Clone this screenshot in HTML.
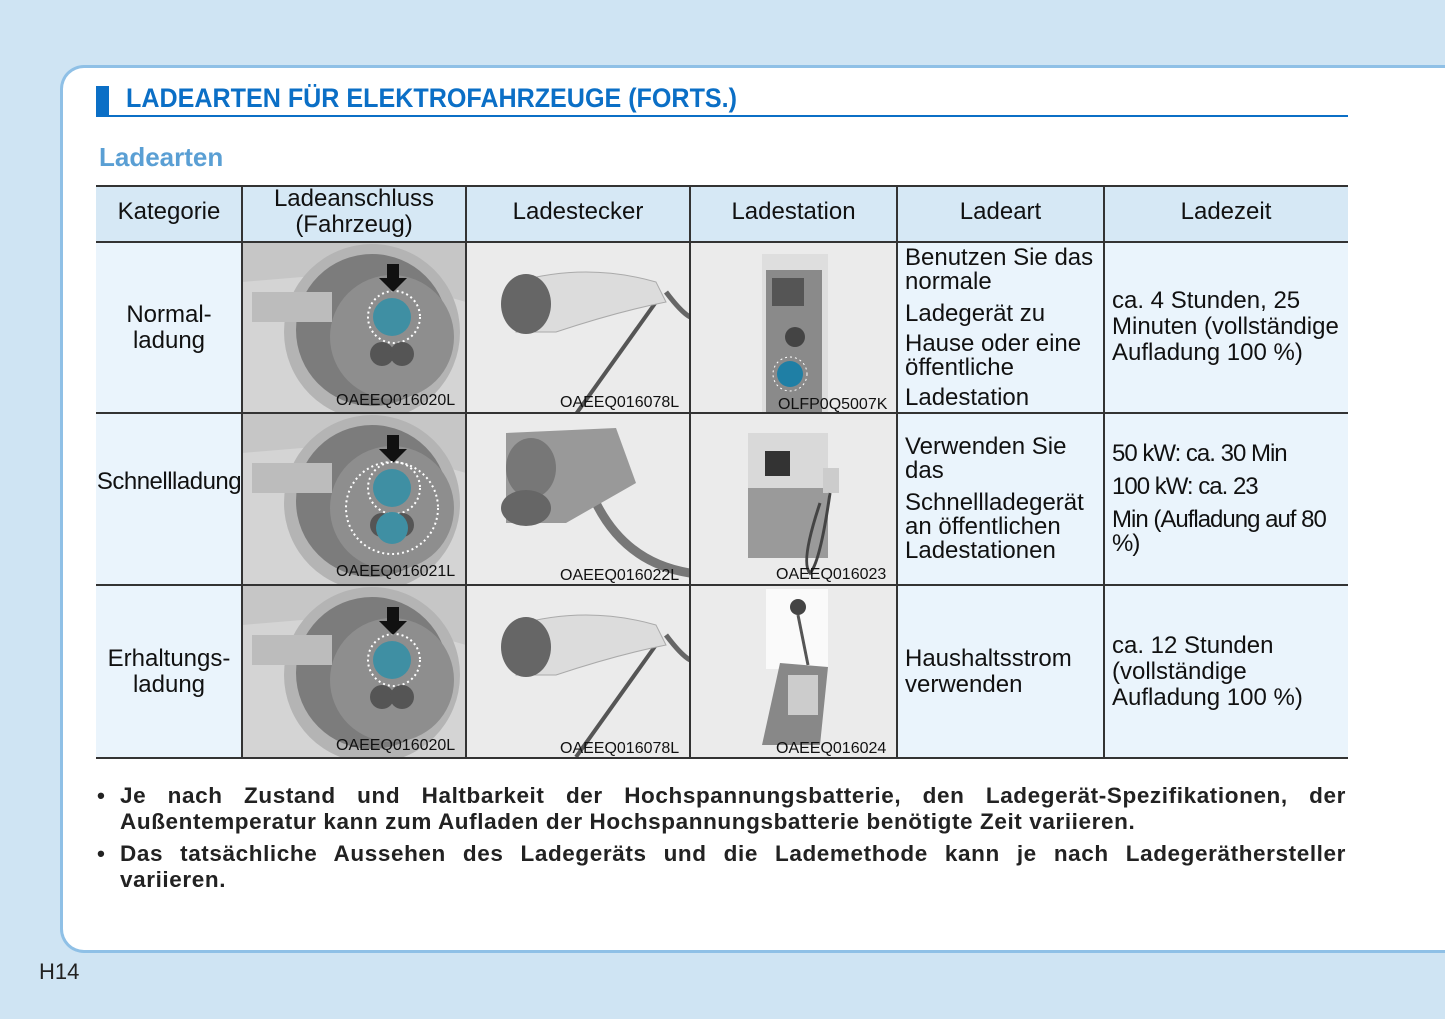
<!DOCTYPE html>
<html><head><meta charset="utf-8"><style>
*{margin:0;padding:0;box-sizing:border-box}
body{width:1445px;height:1019px;background:#cfe4f3;position:relative;overflow:hidden;font-family:"Liberation Sans",sans-serif;color:#111}
.panel{position:absolute;left:60px;top:65px;width:1400px;height:888px;background:#fff;border:3px solid #8fc0e6;border-right:none;border-radius:24px 0 0 24px}
.abs{position:absolute}
.c{position:absolute;font-size:24px;line-height:26px;display:flex;flex-direction:column;justify-content:center}
.ctr{text-align:center;align-items:center}
.hd{background:#d6e8f5}
.tx{background:#eaf4fc}
.cap{position:absolute;font-size:16px;color:#111;bottom:1px;right:2px}
.hl{position:absolute;left:96px;width:1252px;height:2px;background:#333}
.vl{position:absolute;top:186px;height:572px;width:2px;background:#333}
.note{position:absolute;left:120px;width:1226px;font-size:22.5px;font-weight:bold;line-height:26px;color:#222;text-align:justify;letter-spacing:0.6px}
.b{position:absolute;left:97px;font-size:22.5px;font-weight:bold;color:#222}
</style></head><body>
<div class="panel"></div>
<div class="abs" style="left:96px;top:86px;width:13px;height:30px;background:#0b6fc6"></div>
<div class="abs" style="left:126px;top:83px;font-size:27px;font-weight:bold;color:#0b6fc6;transform:scaleX(0.93);transform-origin:left">LADEARTEN FÜR ELEKTROFAHRZEUGE (FORTS.)</div>
<div class="abs" style="left:96px;top:115px;width:1252px;height:2px;background:#0b6fc6"></div>
<div class="abs" style="left:99px;top:142px;font-size:26px;font-weight:bold;color:#5a9fd4">Ladearten</div>

<div class="c ctr hd" style="left:96px;top:186px;width:146px;height:56px;padding-bottom:4px">Kategorie</div>
<div class="c ctr hd" style="left:242px;top:186px;width:224px;height:56px;padding-bottom:4px">Ladeanschluss<br>(Fahrzeug)</div>
<div class="c ctr hd" style="left:466px;top:186px;width:224px;height:56px;padding-bottom:4px">Ladestecker</div>
<div class="c ctr hd" style="left:690px;top:186px;width:207px;height:56px;padding-bottom:4px">Ladestation</div>
<div class="c ctr hd" style="left:897px;top:186px;width:207px;height:56px;padding-bottom:4px">Ladeart</div>
<div class="c ctr hd" style="left:1104px;top:186px;width:244px;height:56px;padding-bottom:4px">Ladezeit</div>

<div class="c ctr tx" style="left:96px;top:242px;width:146px;height:171px">Normal-<br>ladung</div>
<div class="c tx" style="left:897px;top:242px;width:207px;height:171px;padding-left:8px;line-height:24px">Benutzen Sie das<br>normale<div style="height:8px"></div>Ladegerät zu<div style="height:6px"></div>Hause oder eine<br>öffentliche<div style="height:6px"></div>Ladestation</div>
<div class="c tx" style="left:1104px;top:242px;width:244px;height:171px;padding-left:8px;padding-bottom:2px">ca. 4 Stunden, 25<br>Minuten (vollständige<br>Aufladung 100 %)</div>
<div class="c ctr tx" style="left:96px;top:413px;width:146px;height:172px;padding-bottom:35px;letter-spacing:-0.5px">Schnellladung</div>
<div class="c tx" style="left:897px;top:413px;width:207px;height:172px;padding-left:8px;line-height:24px">Verwenden Sie<br>das<div style="height:8px"></div>Schnellladegerät<br>an öffentlichen<br>Ladestationen</div>
<div class="c tx" style="left:1104px;top:413px;width:244px;height:172px;padding-left:8px;letter-spacing:-1px;line-height:24px">50 kW: ca. 30 Min<div style="height:9px"></div>100 kW: ca. 23<div style="height:9px"></div>Min (Aufladung auf 80<br>%)</div>
<div class="c ctr tx" style="left:96px;top:585px;width:146px;height:173px">Erhaltungs-<br>ladung</div>
<div class="c tx" style="left:897px;top:585px;width:207px;height:173px;padding-left:8px">Haushaltsstrom<br>verwenden</div>
<div class="c tx" style="left:1104px;top:585px;width:244px;height:173px;padding-left:8px">ca. 12 Stunden<br>(vollständige<br>Aufladung 100 %)</div>

<svg class="abs" style="left:242px;top:242px" width="224" height="516">
 <defs><g id="port">
  <rect width="224" height="172" fill="#c6c6c6"/>
  <path d="M0 40 L120 30 L224 60 L224 172 L0 172Z" fill="#d4d4d4"/>
  <circle cx="130" cy="90" r="88" fill="#b4b4b4"/>
  <circle cx="130" cy="88" r="76" fill="#7c7c7c"/>
  <circle cx="150" cy="95" r="62" fill="#8e8e8e"/>
  <rect x="10" y="50" width="80" height="30" fill="#bcbcbc"/>
  <circle cx="152" cy="75" r="26" fill="none" stroke="#fff" stroke-width="2" stroke-dasharray="2 3"/>
  <circle cx="150" cy="75" r="19" fill="#3f8fa3"/>
  <circle cx="140" cy="112" r="12" fill="#555"/><circle cx="160" cy="112" r="12" fill="#555"/>
  <path d="M145 22 h12 v14 h8 l-14 14 l-14 -14 h8z" fill="#111"/>
 </g></defs>
 <use href="#port"/>
 <g transform="translate(0,171)"><use href="#port"/><circle cx="150" cy="115" r="16" fill="#3f8fa3"/><circle cx="150" cy="95" r="46" fill="none" stroke="#fff" stroke-width="2" stroke-dasharray="2 3"/></g>
 <g transform="translate(0,343)"><use href="#port"/></g>
</svg>
<div class="cap" style="left:336px;top:392px">OAEEQ016020L</div>
<div class="cap" style="left:336px;top:563px">OAEEQ016021L</div>
<div class="cap" style="left:336px;top:737px">OAEEQ016020L</div>

<svg class="abs" style="left:466px;top:242px" width="224" height="516">
 <defs><g id="plug">
  <rect width="224" height="172" fill="#ebebeb"/>
  <path d="M200 50 Q215 70 224 75" stroke="#666" stroke-width="5" fill="none"/>
  <line x1="190" y1="60" x2="110" y2="172" stroke="#555" stroke-width="4"/>
  <path d="M50 40 Q120 20 190 40 L200 60 Q150 70 90 90 L50 90Z" fill="#dcdcdc" stroke="#aaa"/>
  <ellipse cx="60" cy="62" rx="25" ry="30" fill="#666"/>
 </g></defs>
 <use href="#plug"/>
 <g transform="translate(0,171)"><rect width="224" height="172" fill="#ebebeb"/>
  <path d="M130 90 Q160 150 224 160" stroke="#777" stroke-width="9" fill="none"/>
  <path d="M40 20 L150 15 L170 70 L100 110 L40 110Z" fill="#999"/>
  <ellipse cx="65" cy="55" rx="25" ry="30" fill="#777"/><ellipse cx="60" cy="95" rx="25" ry="18" fill="#666"/></g>
 <g transform="translate(0,343)"><use href="#plug"/></g>
</svg>
<div class="cap" style="left:560px;top:394px">OAEEQ016078L</div>
<div class="cap" style="left:560px;top:567px">OAEEQ016022L</div>
<div class="cap" style="left:560px;top:740px">OAEEQ016078L</div>

<svg class="abs" style="left:690px;top:242px" width="207" height="516">
 <rect width="207" height="516" fill="#ebebeb"/>
 <rect x="72" y="12" width="66" height="160" fill="#dedede"/>
 <rect x="76" y="28" width="56" height="144" fill="#8a8a8a"/>
 <rect x="82" y="36" width="32" height="28" fill="#555"/>
 <circle cx="105" cy="95" r="10" fill="#444"/>
 <circle cx="100" cy="132" r="13" fill="#1f7fa5"/>
 <circle cx="100" cy="132" r="17" fill="none" stroke="#fff" stroke-dasharray="2 3"/>
 <g transform="translate(0,171)">
  <rect x="58" y="20" width="80" height="125" fill="#9a9a9a"/>
  <rect x="58" y="20" width="80" height="55" fill="#d9d9d9"/>
  <rect x="75" y="38" width="25" height="25" fill="#333"/>
  <rect x="133" y="55" width="16" height="25" fill="#ccc"/>
  <path d="M140 80 Q130 150 120 160 Q110 150 130 90" stroke="#444" stroke-width="3" fill="none"/>
 </g>
 <g transform="translate(0,343)">
  <rect x="76" y="4" width="62" height="80" fill="#fafafa"/>
  <circle cx="108" cy="22" r="8" fill="#444"/>
  <path d="M108 30 L118 80" stroke="#555" stroke-width="3"/>
  <path d="M90 78 L138 82 L130 160 L72 160Z" fill="#888"/>
  <rect x="98" y="90" width="30" height="40" fill="#ccc"/>
 </g>
</svg>
<div class="cap" style="left:778px;top:396px">OLFP0Q5007K</div>
<div class="cap" style="left:776px;top:566px">OAEEQ016023</div>
<div class="cap" style="left:776px;top:740px">OAEEQ016024</div>

<div class="hl" style="top:185px"></div>
<div class="hl" style="top:241px"></div>
<div class="hl" style="top:412px"></div>
<div class="hl" style="top:584px"></div>
<div class="hl" style="top:757px"></div>
<div class="vl" style="left:241px"></div>
<div class="vl" style="left:465px"></div>
<div class="vl" style="left:689px"></div>
<div class="vl" style="left:896px"></div>
<div class="vl" style="left:1103px"></div>

<div class="b" style="top:783px">•</div>
<div class="note" style="top:783px">Je nach Zustand und Haltbarkeit der Hochspannungsbatterie, den Ladegerät-Spezifikationen, der Außentemperatur kann zum Aufladen der Hochspannungsbatterie benötigte Zeit variieren.</div>
<div class="b" style="top:841px">•</div>
<div class="note" style="top:841px">Das tatsächliche Aussehen des Ladegeräts und die Lademethode kann je nach Ladegeräthersteller variieren.</div>

<div class="abs" style="left:39px;top:959px;font-size:22px;color:#222">H14</div>
</body></html>
